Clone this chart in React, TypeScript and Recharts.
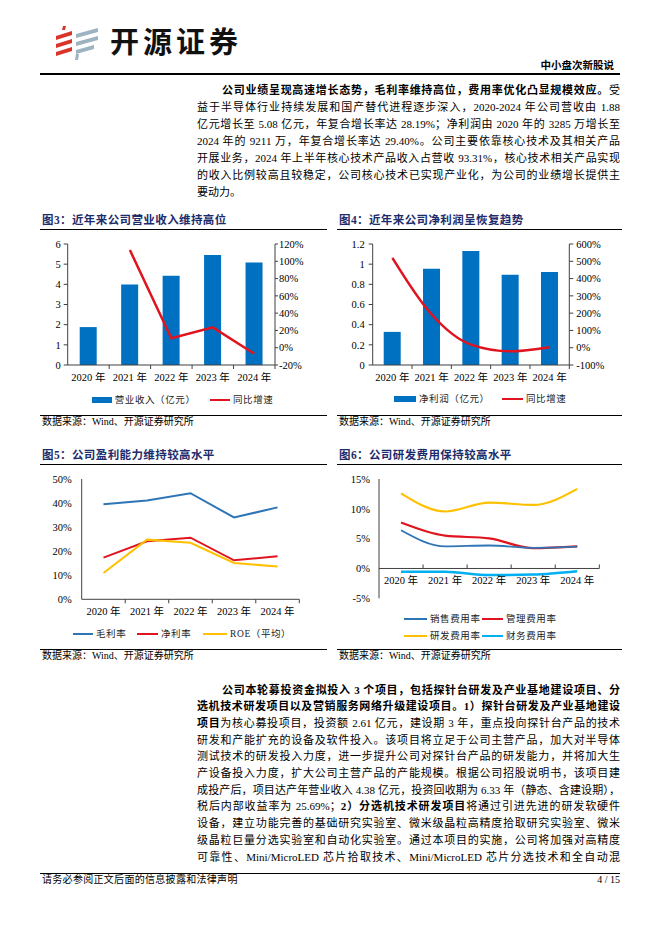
import React from "react";
import { ComposedChart, LineChart, Bar, Line, XAxis, YAxis, ReferenceLine } from "recharts";

// 年份与各序列数值
const years = ["2020 年", "2021 年", "2022 年", "2023 年", "2024 年"];
const revenue = [1.88, 3.99, 4.42, 5.46, 5.08];
const revenueYoy = [null, 113, 11, 23.5, -7];
const profit = [0.3285, 0.955, 1.13, 0.894, 0.9211];
const profitYoy = [520, 192, 18, -21, 3];
const grossMargin = [39.5, 41.1, 44.1, 34.0, 38.2];
const netMargin = [17.3, 24.1, 25.6, 16.2, 17.9];
const roe = [10.9, 24.8, 23.5, 15.1, 13.6];
const sellRate = [6.4, 3.7, 3.85, 3.45, 3.65];
const adminRate = [7.7, 5.5, 5.05, 3.4, 3.7];
const rdRate = [12.6, 9.55, 11.05, 10.65, 13.35];
const finRate = [-0.55, -0.55, -1.1, -1.0, -0.45];

const revTicks = [0, 1, 2, 3, 4, 5, 6];
const revYoyTicks = [-20, 0, 20, 40, 60, 80, 100, 120];
const profitTicks = [0, 0.2, 0.4, 0.6, 0.8, 1, 1.2];
const profitYoyTicks = [-100, 0, 100, 200, 300, 400, 500, 600];
const marginTicks = [0, 10, 20, 30, 40, 50];
const rateTicks = [-5, 0, 5, 10, 15];

const revData = years.map((y, i) => ({ year: y, revenue: revenue[i], yoy: revenueYoy[i] }));
const profitData = years.map((y, i) => ({ year: y, profit: profit[i], yoy: profitYoy[i] }));
const marginData = years.map((y, i) => ({ year: y, gross: grossMargin[i], net: netMargin[i], roe: roe[i] }));
const rateData = years.map((y, i) => ({
  year: y,
  sell: sellRate[i],
  admin: adminRate[i],
  rd: rdRate[i],
  fin: finRate[i],
}));

const FONT = '"Liberation Serif", "Noto Sans CJK SC", serif';
const BLUE = "#0070C0";
const RED = "#E0141E";
const YELLOW = "#FFC000";
const NAVY = "#1c2c6c";
const AXIS = "#404040";

const tickStyle = { fontSize: 10.5, fill: "#000", fontFamily: FONT };

const YearTick = (props: any) => {
  const { x, y, payload, index, band, lift = 0, dir = 1 } = props;
  const base = y - lift;
  const last = index === years.length - 1;
  return (
    <g>
      {index > 0 && (
        <line x1={x - band / 2} x2={x - band / 2} y1={base} y2={base + 4 * dir} stroke={AXIS} />
      )}
      {last && <line x1={x + band / 2} x2={x + band / 2} y1={base} y2={base + 4 * dir} stroke={AXIS} />}
      <text x={x} y={base + 16} textAnchor="middle" {...tickStyle}>
        {payload.value}
      </text>
    </g>
  );
};

const abs = (left: number, top: number, extra: any = {}) => ({
  position: "absolute" as const,
  left,
  top,
  ...extra,
});

const TextLine = ({ top, left = 197, right = 620, last = false, bold = false, children }: any) => (
  <div
    style={abs(left, top - 8.5, {
      width: right - left,
      height: 17,
      lineHeight: "17px",
      fontSize: 11,
      fontFamily: FONT,
      color: "#000",
      textAlign: last ? "left" : "justify",
      textAlignLast: last ? "left" : "justify",
      fontWeight: bold ? 700 : 400,
      whiteSpace: "nowrap",
    })}
  >
    {children}
  </div>
);

const Title = ({ left, top, width, children }: any) => (
  <>
    <div
      style={abs(left + 2, top - 8, {
        fontSize: 11.5,
        lineHeight: "16px",
        fontWeight: 700,
        color: NAVY,
        fontFamily: FONT,
        letterSpacing: 0.4,
      })}
    >
      {children}
    </div>
    <div style={abs(left, top + 9, { width, height: 1.3, background: "#000" })} />
  </>
);

const Source = ({ left, top, width }: any) => (
  <>
    <div style={abs(left, top - 6, { width, height: 1.3, background: "#000" })} />
    <div style={abs(left + 2, top - 6, { fontSize: 10, lineHeight: "13px", fontFamily: FONT, color: "#000" })}>
      数据来源：Wind、开源证券研究所
    </div>
  </>
);

const LegendItem = ({ left, top, sw, kind, color, label, thick = 2 }: any) => (
  <>
    {kind === "rect" ? (
      <div style={abs(left, top - 3, { width: sw, height: 6, background: color })} />
    ) : (
      <div style={abs(left, top - thick / 2, { width: sw, height: thick, background: color })} />
    )}
    <div
      style={abs(left + sw + 3, top - 7, {
        fontSize: 9.5,
        lineHeight: "14px",
        fontFamily: FONT,
        color: "#222",
        letterSpacing: 0.6,
        whiteSpace: "nowrap",
      })}
    >
      {label}
    </div>
  </>
);

const Logo = () => (
  <svg style={abs(54, 26)} width={48} height={34} viewBox="0 0 48 34">
    <path d="M9 0 L12 0 L11 4 L8 4 Z" fill="#d8352a" />
    <path d="M2 10 L18 5 L18 9 L2 14 Z" fill="#d8352a" />
    <path d="M2 18 L18 13 L18 17 L2 22 Z" fill="#d8352a" />
    <path d="M2 26 L18 21 L18 25 L2 30 Z" fill="#d8352a" />
    <path d="M22 8 L44 2 L44 6 L22 12 Z" fill="#9db3c2" />
    <path d="M22 16 L44 10 L44 14 L22 20 Z" fill="#9db3c2" />
    <path d="M22 24 L40 19 L40 23 L22 28 Z" fill="#9db3c2" />
    <path d="M22 28 L25 28 L24 34 L21 34 Z" fill="#9db3c2" />
  </svg>
);

export default function App() {
  const c3 = { w: 292, h: 161, m: { top: 10, right: 7, left: 0, bottom: 0 }, yl: 37.7, yr: 40 };
  const band3 = (c3.w - c3.m.left - c3.m.right - c3.yl - c3.yr) / 5;
  const c4 = { w: 301, h: 161, m: { top: 10, right: 21.7, left: 0, bottom: 0 }, yl: 37.7, yr: 45 };
  const band4 = (c4.w - c4.m.left - c4.m.right - c4.yl - c4.yr) / 5;
  const c5 = { w: 292, h: 160.3, m: { top: 10, right: 22.7, left: 0, bottom: 0 }, yl: 51.7 };
  const band5 = (c5.w - c5.m.left - c5.m.right - c5.yl) / 5;
  const c6 = { w: 301, h: 149.3, m: { top: 10, right: 36.7, left: 0, bottom: 0 }, yl: 44 };
  const band6 = (c6.w - c6.m.left - c6.m.right - c6.yl) / 5;
  const plotH6 = c6.h - c6.m.top - 20;
  const lift6 = (plotH6 * (0 - rateTicks[0])) / (rateTicks[rateTicks.length - 1] - rateTicks[0]);

  return (
    <div
      style={{
        position: "relative",
        width: 662,
        height: 936,
        margin: -8,
        background: "#fff",
        overflow: "hidden",
        fontFamily: FONT,
      }}
    >
      {/* 页眉 */}
      <Logo />
      <div
        style={abs(110, 24, {
          fontFamily: '"Noto Sans CJK SC", sans-serif',
          fontWeight: 700,
          fontSize: 29,
          lineHeight: "32px",
          letterSpacing: 4,
          color: "#111",
        })}
      >
        开源证券
      </div>
      <div style={abs(520, 59, { width: 94, textAlign: "right", fontSize: 10.5, fontWeight: 700, lineHeight: "14px" })}>
        中小盘次新股说
      </div>
      <div style={abs(40, 73, { width: 580, height: 1.5, background: "#000" })} />

      {/* 段落一 */}
      <TextLine top={90.7} left={222}>
        <b>公司业绩呈现高速增长态势，毛利率维持高位，费用率优化凸显规模效应。</b>受
      </TextLine>
      <TextLine top={107.7}>益于半导体行业持续发展和国产替代进程逐步深入，2020-2024 年公司营收由 1.88</TextLine>
      <TextLine top={124.7}>亿元增长至 5.08 亿元，年复合增长率达 28.19%；净利润由 2020 年的 3285 万增长至</TextLine>
      <TextLine top={141.7}>2024 年的 9211 万，年复合增长率达 29.40%。公司主要依靠核心技术及其相关产品</TextLine>
      <TextLine top={158.7}>开展业务，2024 年上半年核心技术产品收入占营收 93.31%，核心技术相关产品实现</TextLine>
      <TextLine top={175.7}>的收入比例较高且较稳定，公司核心技术已实现产业化，为公司的业绩增长提供主</TextLine>
      <TextLine top={192.7} last>
        要动力。
      </TextLine>

      {/* 图3 */}
      <Title left={40} top={220} width={287}>
        图3：近年来公司营业收入维持高位
      </Title>
      <div style={abs(30, 234)}>
        <ComposedChart width={c3.w} height={c3.h} data={revData} margin={c3.m}>
          <XAxis
            dataKey="year"
            height={30}
            stroke={AXIS}
            tickLine={false}
            tickSize={0}
            tickMargin={0}
            interval={0}
            tick={(p: any) => <YearTick {...p} band={band3} />}
          />
          <YAxis
            yAxisId="l"
            width={c3.yl}
            domain={[0, 6]}
            ticks={revTicks}
            stroke={AXIS}
            tickSize={4}
            tickMargin={3}
            tick={tickStyle}
            interval={0}
          />
          <YAxis
            yAxisId="r"
            orientation="right"
            width={c3.yr}
            domain={[-20, 120]}
            ticks={revYoyTicks}
            tickFormatter={(v) => `${v}%`}
            stroke={AXIS}
            tickSize={3}
            tickMargin={1}
            tick={tickStyle}
            interval={0}
          />
          <Bar yAxisId="l" dataKey="revenue" fill={BLUE} barSize={17} isAnimationActive={false} />
          <Line
            yAxisId="r"
            dataKey="yoy"
            stroke={RED}
            strokeWidth={2.5}
            dot={false}
            type="linear"
            isAnimationActive={false}
          />
        </ComposedChart>
      </div>
      <LegendItem left={91.7} top={400} sw={20} kind="rect" color={BLUE} label="营业收入（亿元）" />
      <LegendItem left={210} top={400} sw={20} kind="line" color={RED} label="同比增速" />
      <Source left={40} top={421} width={287} />

      {/* 图4 */}
      <Title left={337} top={220} width={285}>
        图4：近年来公司净利润呈恢复趋势
      </Title>
      <div style={abs(335, 234)}>
        <ComposedChart width={c4.w} height={c4.h} data={profitData} margin={c4.m}>
          <XAxis
            dataKey="year"
            height={30}
            stroke={AXIS}
            tickLine={false}
            tickSize={0}
            tickMargin={0}
            interval={0}
            tick={(p: any) => <YearTick {...p} band={band4} />}
          />
          <YAxis
            yAxisId="l"
            width={c4.yl}
            domain={[0, 1.2]}
            ticks={profitTicks}
            stroke={AXIS}
            tickSize={4}
            tickMargin={4}
            tick={tickStyle}
            interval={0}
          />
          <YAxis
            yAxisId="r"
            orientation="right"
            width={c4.yr}
            domain={[-100, 600]}
            ticks={profitYoyTicks}
            tickFormatter={(v) => `${v}%`}
            stroke={AXIS}
            tickSize={4}
            tickMargin={3}
            tick={tickStyle}
            interval={0}
          />
          <Bar yAxisId="l" dataKey="profit" fill={BLUE} barSize={17} isAnimationActive={false} />
          <Line
            yAxisId="r"
            dataKey="yoy"
            stroke={RED}
            strokeWidth={2.5}
            dot={false}
            type="monotone"
            isAnimationActive={false}
          />
        </ComposedChart>
      </div>
      <LegendItem left={394} top={399} sw={22} kind="rect" color={BLUE} label="净利润（亿元）" />
      <LegendItem left={502} top={399} sw={21} kind="line" color={RED} label="同比增速" />
      <Source left={337} top={421} width={285} />

      {/* 图5 */}
      <Title left={40} top={455} width={287}>
        图5：公司盈利能力维持较高水平
      </Title>
      <div style={abs(30, 469)}>
        <LineChart width={c5.w} height={c5.h} data={marginData} margin={c5.m}>
          <XAxis
            dataKey="year"
            height={30}
            stroke={AXIS}
            tickLine={false}
            tickSize={0}
            tickMargin={0}
            interval={0}
            padding={{ left: band5 / 2, right: band5 / 2 }}
            tick={(p: any) => <YearTick {...p} band={band5} />}
          />
          <YAxis
            width={c5.yl}
            domain={[0, 50]}
            ticks={marginTicks}
            tickFormatter={(v) => `${v}%`}
            stroke={AXIS}
            tickLine={false}
            tickSize={0}
            tickMargin={10}
            tick={tickStyle}
            interval={0}
          />
          <Line dataKey="gross" stroke="#2E75B6" strokeWidth={2} dot={false} type="linear" isAnimationActive={false} />
          <Line dataKey="net" stroke={RED} strokeWidth={2} dot={false} type="linear" isAnimationActive={false} />
          <Line dataKey="roe" stroke={YELLOW} strokeWidth={2} dot={false} type="linear" isAnimationActive={false} />
        </LineChart>
      </div>
      <LegendItem left={73} top={634} sw={20} kind="line" color="#2E75B6" label="毛利率" />
      <LegendItem left={137} top={634} sw={21} kind="line" color={RED} label="净利率" />
      <LegendItem left={203} top={634} sw={24} kind="line" color={YELLOW} label="ROE（平均）" />
      <Source left={40} top={655} width={287} />

      {/* 图6 */}
      <Title left={337} top={455} width={285}>
        图6：公司研发费用保持较高水平
      </Title>
      <div style={abs(335, 469)}>
        <LineChart width={c6.w} height={c6.h} data={rateData} margin={c6.m}>
          <XAxis
            dataKey="year"
            height={20}
            axisLine={false}
            tickLine={false}
            tickSize={0}
            tickMargin={0}
            interval={0}
            padding={{ left: band6 / 2, right: band6 / 2 }}
            tick={(p: any) => <YearTick {...p} band={band6} lift={lift6} dir={-1} />}
          />
          <YAxis
            width={c6.yl}
            domain={[-5, 15]}
            ticks={rateTicks}
            tickFormatter={(v) => `${v}%`}
            stroke={AXIS}
            tickLine={false}
            tickSize={0}
            tickMargin={9}
            tick={tickStyle}
            interval={0}
          />
          <ReferenceLine y={0} stroke={AXIS} />
          <Line dataKey="rd" stroke={YELLOW} strokeWidth={2.2} dot={false} type="monotone" isAnimationActive={false} />
          <Line dataKey="admin" stroke={RED} strokeWidth={2.2} dot={false} type="monotone" isAnimationActive={false} />
          <Line dataKey="sell" stroke="#2E75B6" strokeWidth={1.8} dot={false} type="monotone" isAnimationActive={false} />
          <Line dataKey="fin" stroke="#00B0F0" strokeWidth={2.5} dot={false} type="monotone" isAnimationActive={false} />
        </LineChart>
      </div>
      <LegendItem left={404} top={619} sw={23} kind="line" color="#2E75B6" label="销售费用率" thick={1.8} />
      <LegendItem left={482} top={619} sw={21} kind="line" color={RED} label="管理费用率" />
      <LegendItem left={404} top={636} sw={23} kind="line" color={YELLOW} label="研发费用率" thick={2.5} />
      <LegendItem left={482} top={636} sw={21} kind="line" color="#00B0F0" label="财务费用率" thick={2.5} />
      <Source left={337} top={655} width={285} />

      {/* 段落二 */}
      <TextLine top={690} left={222} bold>
        公司本轮募投资金拟投入 3 个项目，包括探针台研发及产业基地建设项目、分
      </TextLine>
      <TextLine top={706.7} bold>
        选机技术研发项目以及营销服务网络升级建设项目。1）探针台研发及产业基地建设
      </TextLine>
      <TextLine top={723.4}>
        <b>项目</b>为核心募投项目，投资额 2.61 亿元，建设期 3 年，重点投向探针台产品的技术
      </TextLine>
      <TextLine top={740.1}>研发和产能扩充的设备及软件投入。该项目将立足于公司主营产品，加大对半导体</TextLine>
      <TextLine top={756.8}>测试技术的研发投入力度，进一步提升公司对探针台产品的研发能力，并将加大生</TextLine>
      <TextLine top={773.5}>产设备投入力度，扩大公司主营产品的产能规模。根据公司招股说明书，该项目建</TextLine>
      <TextLine top={790.2}>成投产后，项目达产年营业收入 4.38 亿元，投资回收期为 6.33 年（静态、含建设期），</TextLine>
      <TextLine top={806.9}>
        税后内部收益率为 25.69%；<b>2）分选机技术研发项目</b>将通过引进先进的研发软硬件
      </TextLine>
      <TextLine top={823.6}>设备，建立功能完善的基础研究实验室、微米级晶粒高精度拾取研究实验室、微米</TextLine>
      <TextLine top={840.3}>级晶粒巨量分选实验室和自动化实验室。通过本项目的实施，公司将加强对高精度</TextLine>
      <TextLine top={857}>可靠性、Mini/MicroLED 芯片拾取技术、Mini/MicroLED 芯片分选技术和全自动混</TextLine>

      {/* 页脚 */}
      <div style={abs(40, 872.5, { width: 580, height: 1.3, background: "#000" })} />
      <div style={abs(42, 873, { fontSize: 10, lineHeight: "14px", color: "#000", letterSpacing: 0.3 })}>
        请务必参阅正文后面的信息披露和法律声明
      </div>
      <div style={abs(560, 873, { width: 60, textAlign: "right", fontSize: 10, lineHeight: "14px" })}>4 / 15</div>
    </div>
  );
}
